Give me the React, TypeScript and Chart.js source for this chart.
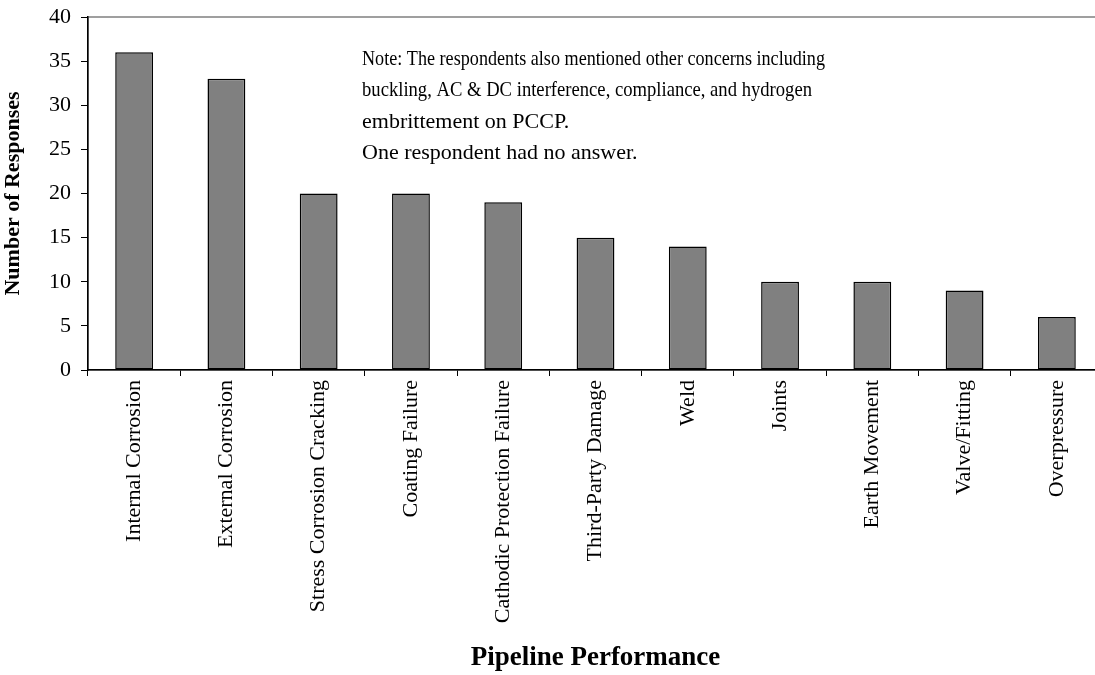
import React, { useEffect, useRef } from "react";
import { Chart, registerables } from "chart.js";

Chart.register(...registerables);

const categories = [
  "Internal Corrosion",
  "External Corrosion",
  "Stress Corrosion Cracking",
  "Coating Failure",
  "Cathodic Protection Failure",
  "Third-Party Damage",
  "Weld",
  "Joints",
  "Earth Movement",
  "Valve/Fitting",
  "Overpressure",
];
const responses = [36, 33, 20, 20, 19, 15, 14, 10, 10, 9, 6];
const yMin = 0;
const yMax = 40;
const yStep = 5;
const xTitle = "Pipeline Performance";
const yTitle = "Number of Responses";
const noteLines = [
  "Note: The respondents also mentioned other concerns including",
  "buckling, AC & DC interference, compliance, and hydrogen",
  "embrittement on PCCP.",
  "One respondent had no answer.",
];

const SERIF = '"Liberation Serif", "Times New Roman", serif';
const W = 1110;
const H = 675;

const notePlugin = {
  id: "notePlugin",
  beforeDraw(chart: any) {
    const { ctx, chartArea } = chart;
    ctx.save();
    ctx.strokeStyle = "#808080";
    ctx.lineWidth = 1.5;
    ctx.strokeRect(chartArea.left, chartArea.top, chartArea.right - chartArea.left, chartArea.bottom - chartArea.top);
    ctx.restore();
  },
  afterDraw(chart: any) {
    const { ctx } = chart;
    ctx.save();
    ctx.fillStyle = "#000";
    ctx.font = `22px ${SERIF}`;
    ctx.textAlign = "left";
    ctx.textBaseline = "alphabetic";
    const maxW = [463, 450, undefined, undefined];
    noteLines.forEach((line, i) => {
      const y = 65 + i * 31.3;
      const mw = maxW[i];
      if (mw) ctx.fillText(line, 362, y, mw);
      else ctx.fillText(line, 362, y);
    });
    ctx.restore();
  },
};

export default function App() {
  const ref = useRef<HTMLCanvasElement | null>(null);
  useEffect(() => {
    if (!ref.current) return;
    const chart = new Chart(ref.current, {
      type: "bar",
      data: {
        labels: categories,
        datasets: [
          {
            data: responses,
            backgroundColor: "#808080",
            borderColor: "#000000",
            borderWidth: 1.5,
            borderSkipped: false,
            barPercentage: 0.41,
            categoryPercentage: 1,
          },
        ],
      },
      options: {
        responsive: false,
        animation: false,
        devicePixelRatio: 1,
        layout: { padding: { top: 17, right: 7, bottom: 0, left: 0 } },
        plugins: {
          legend: { display: false },
          tooltip: { enabled: false },
        },
        scales: {
          x: {
            afterFit: (s: any) => {
              s.height = 305;
              s.paddingLeft = 0;
              s.paddingRight = 0;
            },
            border: { color: "#000", width: 1.5 },
            grid: {
              display: true,
              drawOnChartArea: false,
              drawTicks: true,
              tickLength: 6,
              color: "#000",
              offset: true,
            },
            ticks: {
              color: "#000",
              font: { family: SERIF, size: 22 },
              minRotation: 90,
              maxRotation: 90,
              autoSkip: false,
              padding: 4,
            },
            title: {
              display: true,
              text: xTitle,
              color: "#000",
              font: { family: SERIF, size: 27, weight: "bold" },
              padding: { top: 0, bottom: 1 },
            },
          },
          y: {
            min: yMin,
            max: yMax,
            afterFit: (s: any) => {
              s.width = 88;
              s.paddingTop = 0;
              s.paddingBottom = 0;
            },
            border: { color: "#000", width: 1.5 },
            grid: {
              display: true,
              drawOnChartArea: false,
              drawTicks: true,
              tickLength: 7,
              color: "#000",
            },
            ticks: {
              stepSize: yStep,
              color: "#000",
              font: { family: SERIF, size: 22 },
              padding: 10,
            },
            title: {
              display: true,
              text: yTitle,
              color: "#000",
              font: { family: SERIF, size: 22, weight: "bold" },
              padding: { top: 0, bottom: 0 },
            },
          },
        },
      },
      plugins: [notePlugin],
    } as any);
    return () => chart.destroy();
  }, []);
  return (
    <div style={{ position: "fixed", left: 0, top: 0, width: 1095, height: H, overflow: "hidden", background: "#fff" }}>
      <canvas ref={ref} width={W} height={H} style={{ width: W, height: H, display: "block" }} />
    </div>
  );
}
